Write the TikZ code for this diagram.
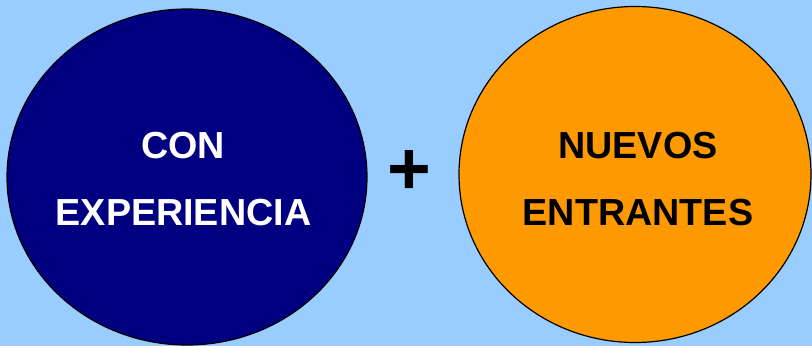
\documentclass[tikz,border=0pt]{standalone}
\usepackage{fontspec}
\setmainfont{Liberation Sans}
\begin{document}
\begin{tikzpicture}[x=1pt,y=-1pt,
  circ/.style={ellipse, draw=black, line width=1.2pt},
  lbl/.style={font=\fontsize{37.7}{66}\selectfont\bfseries, align=center, inner sep=0pt}]
\fill[fill={rgb,255:red,153;green,204;blue,255}] (0,0) rectangle (812,346);
\useasboundingbox (0,0) rectangle (812,346);
\definecolor{navy}{RGB}{0,0,128}
\definecolor{orng}{RGB}{255,153,0}
\fill[navy, draw=black, line width=1.2pt] (187,177) ellipse [x radius=180, y radius=168];
\fill[orng, draw=black, line width=1.2pt] (635,174.5) ellipse [x radius=176, y radius=168];
\node[lbl, text=white, anchor=base] (c1) at (183,158.5) {CON};
\node[lbl, text=white, anchor=base] (c2) at (183.5,225) {EXPERIENCIA};
\node[lbl, text=black, anchor=base] (n1) at (638,158.5) {NUEVOS};
\node[lbl, text=black, anchor=base] (n2) at (638,225) {ENTRANTES};
\node[font=\fontsize{75}{80}\selectfont\bfseries, inner sep=0pt] (plus) at (409,173) {+};
\end{tikzpicture}
\end{document}
